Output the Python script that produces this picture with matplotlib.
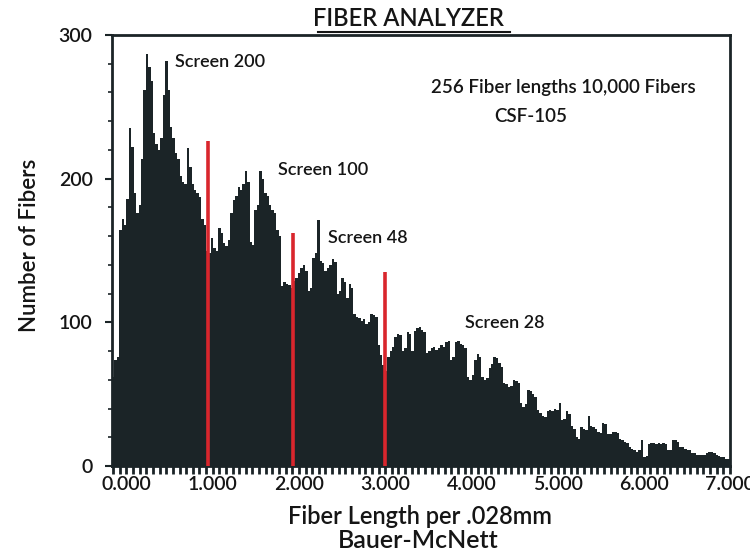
import numpy as np
import matplotlib
matplotlib.use("Agg")
import matplotlib.pyplot as plt
from matplotlib.ticker import MultipleLocator

plt.rcParams['font.family'] = ['Lato', 'DejaVu Sans']
plt.rcParams['font.weight'] = 'semibold'

# Fiber length histogram: 256 classes of .028 mm
BIN_WIDTH = 0.028
X_START = -0.168
counts = [
    62, 74, 76, 164, 172, 168, 186, 235, 222, 190,
    176, 182, 214, 262, 287, 278, 268, 232, 224, 220,
    228, 258, 282, 262, 236, 228, 218, 214, 202, 198,
    196, 221, 208, 196, 192, 190, 187, 172, 168, 150,
    148, 159, 152, 150, 166, 162, 155, 153, 157, 176,
    185, 188, 194, 192, 196, 205, 198, 156, 154, 178,
    182, 205, 200, 190, 188, 182, 178, 176, 164, 160,
    125, 128, 127, 126, 124, 129, 131, 134, 138, 140,
    136, 122, 124, 145, 148, 171, 143, 141, 136, 138,
    140, 144, 142, 120, 122, 131, 128, 117, 127, 124,
    106, 104, 103, 101, 102, 99, 100, 106, 105, 104,
    84, 77, 70, 66, 76, 80, 83, 90, 92, 91,
    80, 82, 93, 92, 80, 94, 96, 97, 95, 93,
    79, 80, 82, 83, 81, 82, 84, 83, 86, 87,
    74, 76, 86, 87, 85, 84, 82, 62, 60, 63,
    74, 78, 76, 62, 60, 61, 68, 71, 76, 75,
    72, 69, 58, 57, 55, 56, 60, 59, 58, 44,
    41, 43, 53, 52, 50, 48, 39, 37, 35, 34,
    38, 39, 38, 40, 39, 44, 32, 33, 38, 36,
    28, 26, 20, 19, 27, 26, 25, 35, 28, 27,
    26, 24, 23, 30, 29, 22, 22, 24, 24, 23,
    19, 18, 17, 16, 13, 12, 11, 10, 11, 18,
    6, 7, 15, 16, 16, 15, 16, 15, 16, 15,
    11, 11, 18, 18, 17, 13, 13, 12, 11, 11,
    9, 9, 8, 8, 8, 8, 9, 10, 10, 9,
    8, 7, 6, 6, 5, 5,
]

# Bauer-McNett screen cut points and marker heights
screen_cuts = [0.94, 1.93, 3.00]
screen_marks = [226, 162, 135]

screen_labels = ["Screen 200", "Screen 100", "Screen 48", "Screen 28"]
x_ticks = [0, 1, 2, 3, 4, 5, 6, 7]
x_tick_labels = ["0.000", "1.000", "2.000", "3.000", "4.000", "5.000", "6.000", "7.000"]
y_ticks = [0, 100, 200, 300]

INK = '#1b2427'
TXT = '#151515'
RED = '#d9262d'

W, H = 750, 556
fig = plt.figure(figsize=(7.5, 5.56), dpi=100)
fig.patch.set_facecolor('white')


def fx(px):
    return px / W


def fy(py):
    return 1 - py / H


ax = fig.add_axes([fx(112), fy(466), fx(730) - fx(112), fy(35) - fy(466)])

edges = X_START + BIN_WIDTH * np.arange(len(counts) + 1)
ax.stairs(counts, edges, fill=True, color=INK, linewidth=0)

for xc, top in zip(screen_cuts, screen_marks):
    ax.vlines(xc, 0, top, color=RED, linewidth=2.6, zorder=3)

ax.set_xlim(X_START, 7.0)
ax.set_ylim(0, 300)

for s in ax.spines.values():
    s.set_linewidth(2.0)
    s.set_color(INK)

ax.set_xticks(x_ticks)
ax.set_xticklabels(x_tick_labels)
ax.xaxis.set_minor_locator(MultipleLocator(1 / 13))
ax.tick_params(axis='x', which='both', direction='out', length=6, width=2,
               color=INK, pad=1, labelsize=14, labelcolor=TXT)
ax.set_yticks(y_ticks)
ax.yaxis.set_minor_locator(MultipleLocator(20))
ax.tick_params(axis='y', which='major', direction='out', length=5, width=1.5,
               color=INK, pad=9, labelsize=14, labelcolor=TXT)
ax.tick_params(axis='y', which='minor', direction='out', length=3, width=1.2, color=INK)

# Titles and labels
fig.text(fx(408), fy(18), "FIBER ANALYZER", ha='center', va='center',
         fontsize=17, color=TXT)
fig.add_artist(plt.Line2D([fx(318), fx(510)], [fy(32), fy(32)], color=TXT,
                          linewidth=1.5))
fig.text(fx(30), fy(245), "Number of Fibers", rotation=90, ha='center', va='center',
         fontsize=16, color=TXT)
fig.text(fx(420), fy(517), "Fiber Length per .028mm", ha='center', va='center',
         fontsize=17, color=TXT)
fig.text(fx(418), fy(541), "Bauer-McNett", ha='center', va='center',
         fontsize=18, color=TXT)

# In-plot annotations
fig.text(fx(175), fy(62), screen_labels[0], ha='left', va='center', fontsize=13, color=TXT)
fig.text(fx(278), fy(170), screen_labels[1], ha='left', va='center', fontsize=13, color=TXT)
fig.text(fx(328), fy(238), screen_labels[2], ha='left', va='center', fontsize=13, color=TXT)
fig.text(fx(465), fy(323), screen_labels[3], ha='left', va='center', fontsize=13, color=TXT)
fig.text(fx(563), fy(87), "256 Fiber lengths 10,000 Fibers", ha='center', va='center',
         fontsize=13.5, color=TXT)
fig.text(fx(531), fy(117), "CSF-105", ha='center', va='center', fontsize=13.5, color=TXT)

fig.savefig("out.png", dpi=100, facecolor='white')
